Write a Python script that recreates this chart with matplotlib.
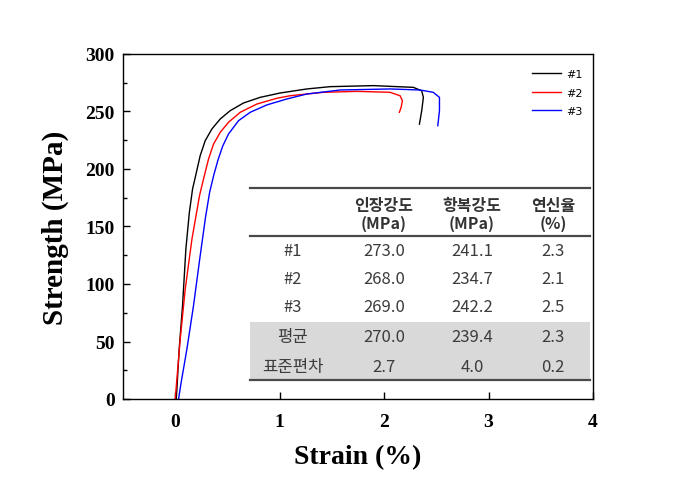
import numpy as np
import matplotlib.pyplot as plt
from matplotlib.patches import Rectangle
from matplotlib.lines import Line2D
from matplotlib.ticker import MultipleLocator

# 응력-변형률 곡선
strain_1 = [0.01, 0.016, 0.038, 0.070, 0.102, 0.135, 0.166, 0.200, 0.239, 0.287, 0.351, 0.431, 0.526, 0.654,
            0.813, 1.005, 1.26, 1.483, 1.898, 2.28, 2.36, 2.376, 2.36, 2.338]
stress_1 = [0, 8.7, 43.5, 81.1, 130.4, 162, 182.6, 196, 211.6, 224.6, 234.8, 243.5, 250.7, 257.4,
            262.3, 266.1, 269.6, 271.6, 272.5, 271, 268, 262.3, 250.7, 239]

strain_2 = [0.0, 0.016, 0.048, 0.096, 0.160, 0.233, 0.271, 0.319, 0.367, 0.431, 0.510, 0.622, 0.782,
            0.973, 1.10, 1.419, 1.739, 2.057, 2.153, 2.175, 2.163, 2.146]
stress_2 = [0, 17.4, 52.2, 95.7, 139, 177, 191.3, 208.7, 221.7, 231.9, 240.6, 249.3, 256.5,
            261.5, 263.7, 266.7, 267.5, 266.7, 263.7, 259.4, 253.6, 249.3]

strain_3 = [0.032, 0.057, 0.112, 0.175, 0.239, 0.290, 0.330, 0.370, 0.410, 0.455, 0.510, 0.606, 0.718, 0.877,
            1.069, 1.26, 1.579, 2.057, 2.344, 2.47, 2.53, 2.53, 2.514]
stress_3 = [0, 14.5, 43.5, 81.1, 124.6, 158, 180, 195, 208, 220, 230.4, 242, 249.3, 255.7,
            260.9, 265.2, 268.7, 269.6, 268.7, 266.7, 262.3, 250.7, 237.7]

labels = ['#1', '#2', '#3']
colors = ['black', 'red', 'blue']

# 표 데이터
col_head = ['인장강도\n(MPa)', '항복강도\n(MPa)', '연신율\n(%)']
row_head = ['#1', '#2', '#3', '평균', '표준편차']
tensile = ['273.0', '268.0', '269.0', '270.0', '2.7']
yieldst = ['241.1', '234.7', '242.2', '239.4', '4.0']
elong = ['2.3', '2.1', '2.5', '2.3', '0.2']

fig = plt.figure(figsize=(6.92, 4.85), dpi=100)
ax = fig.add_axes([123 / 692, 1 - 400 / 485, 470 / 692, 345 / 485])

for sx, sy, lab, c in zip([strain_1, strain_2, strain_3], [stress_1, stress_2, stress_3], labels, colors):
    ax.plot(sx, sy, color=c, lw=1.0, label=lab)

ax.set_xlim(-0.5, 4)
ax.set_ylim(0, 300)
ax.xaxis.set_major_locator(MultipleLocator(1))
ax.yaxis.set_major_locator(MultipleLocator(50))
ax.yaxis.set_minor_locator(MultipleLocator(25))
ax.tick_params(direction='in', which='both', top=False, right=False, length=5, width=1)
ax.tick_params(which='minor', length=3)
ax.tick_params(axis='x', pad=10)
ax.tick_params(axis='y', pad=6)
for lbl in ax.get_xticklabels() + ax.get_yticklabels():
    lbl.set_fontfamily('Liberation Serif')
    lbl.set_fontweight('bold')
    lbl.set_fontsize(14)
for s in ax.spines.values():
    s.set_linewidth(1.0)

ax.set_xlabel('Strain (%)', fontfamily='Liberation Serif', fontweight='bold', fontsize=20, labelpad=10)
ax.set_ylabel('Strength (MPa)', fontfamily='Liberation Serif', fontweight='bold', fontsize=21, labelpad=12)

leg = ax.legend(loc='upper right', frameon=False, handlelength=2.6,
                bbox_to_anchor=(1.0, 0.985), labelspacing=0.75, handletextpad=0.5,
                prop={'family': 'DejaVu Sans', 'size': 8})

# 표 그리기 (그림 좌표, 픽셀 기준)
W, H = 692, 485
def fx(px):
    return px / W
def fy(py):
    return 1 - py / H

kfont = ['Noto Sans CJK KR', 'DejaVu Sans']

fig.patches.append(Rectangle((fx(250), fy(381)), (590 - 250) / W, (381 - 323) / H,
                             transform=fig.transFigure, facecolor='#d9d9d9', edgecolor='none', zorder=3))
for py in [189, 237, 381]:
    fig.lines.append(Line2D([fx(250), fx(590)], [fy(py), fy(py)], transform=fig.transFigure,
                            color='#4a4a4a', lw=1.6, zorder=4))

col_x = [293, 384, 472, 553]
for cx, txt in zip(col_x[1:], col_head):
    fig.text(fx(cx), fy(215), txt, ha='center', va='center', fontsize=11.5, fontweight='bold',
             family=kfont, color='#333333', linespacing=1.1, zorder=5)

row_y = [252, 280, 308, 338, 368]
for i, ry in enumerate(row_y):
    vals = [row_head[i], tensile[i], yieldst[i], elong[i]]
    for cx, v in zip(col_x, vals):
        fig.text(fx(cx), fy(ry), v, ha='center', va='center', fontsize=12,
                 family=kfont, color='#3c3c3c', zorder=5)

fig.savefig('out.png', dpi=100)
